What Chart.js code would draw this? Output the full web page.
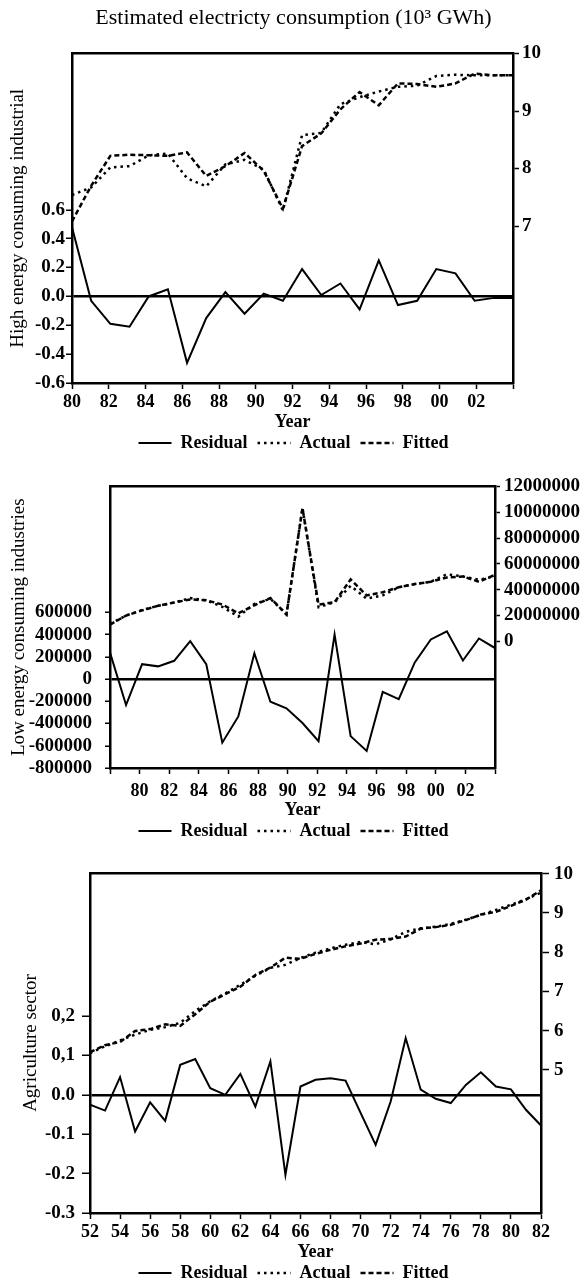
<!DOCTYPE html>
<html><head><meta charset="utf-8">
<script src="https://cdn.jsdelivr.net/npm/chart.js@4.4.1/dist/chart.umd.min.js"></script>
<style>
html,body{margin:0;padding:0;background:#fff;}
body{width:587px;height:1284px;position:relative;overflow:hidden;}
canvas{position:absolute;left:0;}
</style></head><body>
<canvas id="c1" width="587" height="462" style="top:0px"></canvas>
<canvas id="c2" width="587" height="388" style="top:462px"></canvas>
<canvas id="c3" width="587" height="434" style="top:850px"></canvas>
<script>
const FONT = "'Liberation Serif', 'Times New Roman', serif";

// ---------- Panel 1: High energy consuming industrial ----------
const years1 = [1980,1981,1982,1983,1984,1985,1986,1987,1988,1989,1990,1991,1992,1993,1994,1995,1996,1997,1998,1999,2000,2001,2002,2003];
const resid1 = [0.48,-0.03,-0.19,-0.21,0.00,0.05,-0.46,-0.15,0.03,-0.12,0.02,-0.03,0.19,0.01,0.09,-0.09,0.25,-0.06,-0.03,0.19,0.16,-0.03,-0.01,-0.01];
const actual1 = [7.54,7.67,8.02,8.04,8.23,8.26,7.83,7.69,8.07,8.15,7.98,7.27,8.58,8.62,9.12,9.24,9.34,9.42,9.44,9.61,9.63,9.62,9.62,9.62];
const fitted1 = [7.08,7.70,8.22,8.24,8.23,8.22,8.28,7.87,8.04,8.27,7.96,7.30,8.39,8.61,9.03,9.33,9.10,9.48,9.47,9.42,9.48,9.65,9.62,9.62];
const xTicks1 = [1980,1982,1984,1986,1988,1990,1992,1994,1996,1998,2000,2002,2004];
const xLabels1 = ['80','82','84','86','88','90','92','94','96','98','00','02',''];
const lTicks1 = [-0.6,-0.4,-0.2,0,0.2,0.4,0.6];
const lLabels1 = ['-0.6','-0.4','-0.2','0.0','0.2','0.4','0.6'];
const rTicks1 = [7,8,9,10];
const rLabels1 = ['7','8','9','10'];

// ---------- Panel 2: Low energy consuming industries ----------
const years2 = [1978,1979,1980,1981,1982,1983,1984,1985,1986,1987,1988,1989,1990,1991,1992,1993,1994,1995,1996,1997,1998,1999,2000,2001,2002];
const resid2 = [240000,-233000,135000,115000,165000,342000,135000,-572000,-336000,233000,-204000,-263000,-395000,-558000,401000,-513000,-646000,-115000,-180000,150000,357000,431000,168000,366000,280000];
const actual2 = [13500000,20000000,24300000,27600000,30100000,33500000,31800000,26800000,19200000,29000000,33000000,20900000,103300000,26500000,30300000,43000000,33100000,35600000,41900000,44400000,46200000,52000000,50300000,47800000,50300000];
const fitted2 = [13000000,20000000,24000000,27600000,30100000,32500000,31800000,28600000,21700000,28000000,33600000,20900000,103000000,28500000,30300000,48000000,35600000,38100000,41900000,44400000,46200000,49500000,50300000,46200000,51500000];
const xTicks2 = [1978,1980,1982,1984,1986,1988,1990,1992,1994,1996,1998,2000,2002,2004];
const xLabels2 = ['','80','82','84','86','88','90','92','94','96','98','00','02',''];
const lTicks2 = [-800000,-600000,-400000,-200000,0,200000,400000,600000];
const lLabels2 = ['-800000','-600000','-400000','-200000','0','200000','400000','600000'];
const rTicks2 = [0,20000000,40000000,60000000,80000000,100000000,120000000];
const rLabels2 = ['0','20000000','40000000','60000000','80000000','10000000','12000000'];

// ---------- Panel 3: Agriculture sector ----------
const years3 = [1952,1953,1954,1955,1956,1957,1958,1959,1960,1961,1962,1963,1964,1965,1966,1967,1968,1969,1970,1971,1972,1973,1974,1975,1976,1977,1978,1979,1980,1981,1982];
const resid3 = [-0.025,-0.04,0.045,-0.093,-0.019,-0.066,0.076,0.091,0.017,0.0,0.053,-0.03,0.085,-0.203,0.021,0.038,0.042,0.036,-0.046,-0.127,-0.017,0.144,0.013,-0.01,-0.021,0.025,0.057,0.021,0.014,-0.038,-0.078];
const actual3 = [5.43,5.60,5.75,5.90,6.02,6.09,6.20,6.50,6.75,6.95,7.17,7.40,7.60,7.68,7.85,7.99,8.10,8.19,8.26,8.20,8.33,8.52,8.61,8.65,8.72,8.83,8.95,9.08,9.21,9.35,9.52];
const fitted3 = [5.45,5.63,5.71,5.99,6.04,6.16,6.12,6.42,6.74,6.93,7.12,7.42,7.61,7.86,7.83,7.96,8.06,8.15,8.22,8.32,8.34,8.40,8.60,8.64,8.70,8.82,8.96,9.03,9.18,9.34,9.58];
const xTicks3 = [1952,1954,1956,1958,1960,1962,1964,1966,1968,1970,1972,1974,1976,1978,1980,1982];
const xLabels3 = ['52','54','56','58','60','62','64','66','68','70','72','74','76','78','80','82'];
const lTicks3 = [-0.3,-0.2,-0.1,0,0.1,0.2];
const lLabels3 = ['-0.3','-0.2','-0.1','0.0','0,1','0,2'];
const rTicks3 = [5,6,7,8,9,10];
const rLabels3 = ['5','6','7','8','9','10'];

const seriesNames = ['Residual','Actual','Fitted'];

function pts(xs, ys){ return xs.map((x,i)=>({x:x, y:ys[i]})); }
function fixTicks(vals){ return function(scale){ scale.ticks = vals.map(v=>({value:v})); }; }

function legendLabels(chart){
  const items = Chart.defaults.plugins.legend.labels.generateLabels(chart);
  items.forEach(function(it){
    const ds = chart.data.datasets[it.datasetIndex];
    it.lineDash = ds.borderDash || [];
    it.lineWidth = ds.borderWidth;
    it.strokeStyle = ds.borderColor;
    it.pointStyle = 'line';
  });
  return items;
}

function build(id, P){
  const black = '#000';
  const tickFont = {family:FONT, size:19, weight:'bold'};
  const datasets = [
    {label:seriesNames[0], data:pts(P.years,P.resid), xAxisID:'xd', yAxisID:'yl', borderColor:black, backgroundColor:black, borderWidth:2, pointRadius:0, tension:0, fill:false},
    {label:seriesNames[1], data:pts(P.years,P.actual), xAxisID:'xd', yAxisID:'yr', borderColor:black, backgroundColor:black, borderWidth:2.5, borderDash:[2.5,4], pointRadius:0, tension:0, fill:false},
    {label:seriesNames[2], data:pts(P.years,P.fitted), xAxisID:'xd', yAxisID:'yr', borderColor:black, backgroundColor:black, borderWidth:2.5, borderDash:[5,3], pointRadius:0, tension:0, fill:false}
  ];
  new Chart(document.getElementById(id), {
    type:'line',
    data:{datasets:datasets},
    options:{
      responsive:false, animation:false, devicePixelRatio:1,
      layout:{padding:{top:P.padTop, bottom:P.padBottom, left:0, right:0}},
      plugins:{
        title: P.title ? {display:true, text:P.title, color:black, font:{family:FONT, size:22, weight:'normal', lineHeight:1.2}, padding:{top:5, bottom:22.1}} : {display:false},
        legend:{display:true, position:'bottom', labels:{usePointStyle:true, pointStyle:'line', pointStyleWidth:33, boxHeight:18, padding:10, color:black, font:{family:FONT, size:18, weight:'bold'}, generateLabels:legendLabels}},
        tooltip:{enabled:false}
      },
      scales:{
        xd:{type:'linear', display:false, min:P.years[0], max:P.years[P.years.length-1]},
        x:{type:'linear', position:'bottom', min:P.xTicks[0], max:P.xTicks[P.xTicks.length-1],
           afterBuildTicks:fixTicks(P.xTicks), afterFit:function(s){ s.height = P.xH; },
           ticks:{callback:function(v,i){ return P.xLabels[i]; }, font:{family:FONT,size:18,weight:'bold'}, color:black, padding:P.xPad, autoSkip:false, maxRotation:0, minRotation:0},
           grid:{drawOnChartArea:false, drawTicks:true, tickLength:6, tickColor:black, tickWidth:1.5},
           border:{display:true, color:black, width:2.5},
           title:{display:true, text:'Year', color:black, font:{family:FONT, size:18, weight:'bold', lineHeight:0.2}, padding:0}},
        xt:{type:'linear', position:'top', min:P.xTicks[0], max:P.xTicks[P.xTicks.length-1],
           ticks:{display:false}, grid:{display:false, drawTicks:false},
           border:{display:true, color:black, width:2.5}, afterFit:function(s){ s.height = 0; }},
        yl:{type:'linear', position:'left', min:P.lMin, max:P.lMax,
           afterBuildTicks:fixTicks(P.lTicks), afterFit:function(s){ s.width = P.lW; },
           ticks:{callback:function(v,i){ return P.lLabels[i]; }, font:tickFont, color:black, padding:P.lPad, autoSkip:false},
           grid:{drawOnChartArea:true, color:function(c){ return (c.tick && c.tick.value === 0) ? black : 'rgba(0,0,0,0)'; }, lineWidth:2.5, drawTicks:true, tickLength:P.lTL, tickColor:black, tickWidth:1.5},
           border:{display:true, color:black, width:2.5},
           title:{display:true, text:P.yTitle, color:black, font:{family:FONT, size:19, weight:'normal'}, padding:{top:P.yTitlePad, bottom:0}}},
        yr:{type:'linear', position:'right', min:P.rMin, max:P.rMax,
           afterBuildTicks:fixTicks(P.rTicks), afterFit:function(s){ s.width = P.rW; },
           ticks:{callback:function(v,i){ return P.rLabels[i]; }, font:tickFont, color:black, padding:P.rPad, autoSkip:false},
           grid:{drawOnChartArea:false, drawTicks:true, tickLength:P.rTL, tickColor:black, tickWidth:1.5},
           border:{display:true, color:black, width:2.5}}
      }
    }
  });
}

build('c1', {title:'Estimated electricty consumption (10\u00B3 GWh)', years:years1, resid:resid1, actual:actual1, fitted:fitted1,
  xTicks:xTicks1, xLabels:xLabels1, lTicks:lTicks1, lLabels:lLabels1, rTicks:rTicks1, rLabels:rLabels1,
  lMin:-0.6, lMax:1.684, rMin:4.27, rMax:10, padTop:0, padBottom:0, lW:72, rW:74, xH:41, xPad:3,
  lPad:1, lTL:6, rPad:3, rTL:6, yTitle:'High energy consuming industrial', yTitlePad:6.6});

build('c2', {title:null, years:years2, resid:resid2, actual:actual2, fitted:fitted2,
  xTicks:xTicks2, xLabels:xLabels2, lTicks:lTicks2, lLabels:lLabels2, rTicks:rTicks2, rLabels:rLabels2,
  lMin:-800000, lMax:1735000, rMin:-98000000, rMax:120000000, padTop:19, padBottom:0, lW:110, rW:92, xH:44, xPad:7,
  lPad:13, lTL:5, rPad:4, rTL:5, yTitle:'Low energy consuming industries', yTitlePad:7.6});

build('c3', {title:null, years:years3, resid:resid3, actual:actual3, fitted:fitted3,
  xTicks:xTicks3, xLabels:xLabels3, lTicks:lTicks3, lLabels:lLabels3, rTicks:rTicks3, rLabels:rLabels3,
  lMin:-0.3, lMax:0.563, rMin:1.35, rMax:10.02, padTop:23, padBottom:-8, lW:90, rW:46, xH:41, xPad:3,
  lPad:7, lTL:8, rPad:5, rTL:8, yTitle:'Agriculture sector', yTitlePad:19.6});
</script>
</body></html>
